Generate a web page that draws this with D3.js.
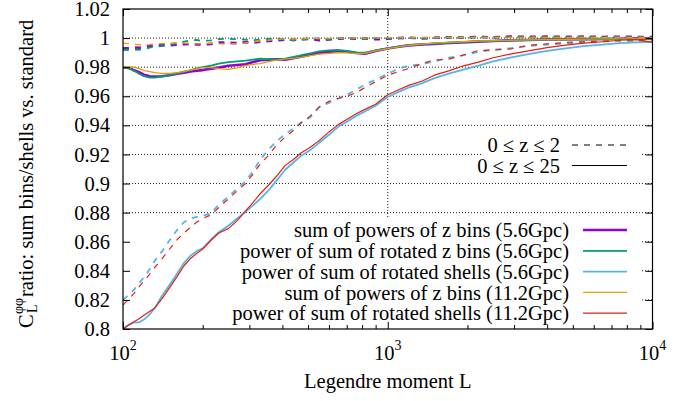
<!DOCTYPE html>
<html>
<head>
<meta charset="utf-8">
<script src="https://cdn.jsdelivr.net/npm/d3@7"></script>
<style>
body { margin: 0; background: #fff; }
svg text { font-family: "Liberation Serif", Tinos, "DejaVu Serif", serif; font-size: 20.5px; fill: #000; }
</style>
</head>
<body>
<svg></svg>
<script>
// multipole grid shared by all curves
var ell = [100, 105, 110, 115, 120, 126, 132, 140, 150, 160, 170, 180, 190, 200, 215, 230, 250, 270, 290, 310,
  330, 355, 380, 410, 440, 470, 510, 550, 600, 650, 700, 760, 820, 900, 1000, 1100, 1200, 1350, 1500, 1700,
  1900, 2200, 2500, 2900, 3400, 4000, 4700, 5500, 6500, 7500, 8700, 10000];

// 0 <= z <= 25 (solid)
var zbins56Wide = [0.980, 0.9795, 0.978, 0.9765, 0.9748, 0.9737, 0.9735, 0.9738, 0.9745, 0.9755, 0.9762, 0.977, 0.9775, 0.978, 0.979, 0.9797, 0.981, 0.9815, 0.982, 0.9835,
  0.9848, 0.9852, 0.9855, 0.9852, 0.9862, 0.9872, 0.9885, 0.9898, 0.9905, 0.991, 0.9908, 0.9897, 0.9893, 0.9912, 0.9928, 0.994, 0.995, 0.9956, 0.996, 0.9966,
  0.997, 0.9976, 0.998, 0.9984, 0.9987, 0.999, 0.9992, 0.9993, 0.9994, 0.9995, 0.9996, 0.9996];
var rotz56Wide = [0.980, 0.9793, 0.9775, 0.9755, 0.9738, 0.9728, 0.9728, 0.9735, 0.9745, 0.9758, 0.977, 0.978, 0.9792, 0.980, 0.981, 0.9825, 0.9835, 0.984, 0.9845, 0.9852,
  0.9858, 0.9855, 0.9852, 0.9858, 0.987, 0.9882, 0.9895, 0.9908, 0.9915, 0.9918, 0.9912, 0.9902, 0.990, 0.9915, 0.993, 0.9942, 0.9952, 0.9958, 0.9962, 0.9968,
  0.9972, 0.9978, 0.998, 0.9984, 0.9987, 0.9989, 0.999, 0.9991, 0.9992, 0.9993, 0.9994, 0.9995];
var shells56Wide = [0.800, 0.803, 0.8045, 0.8045, 0.8065, 0.810, 0.8145, 0.8225, 0.8305, 0.838, 0.8455, 0.8505, 0.8535, 0.8555, 0.8615, 0.8665, 0.871, 0.876, 0.8805, 0.885,
  0.8895, 0.8955, 0.902, 0.9095, 0.9145, 0.919, 0.923, 0.928, 0.9335, 0.939, 0.9425, 0.9465, 0.9495, 0.9535, 0.9595, 0.963, 0.966, 0.969, 0.9725, 0.9755,
  0.978, 0.981, 0.984, 0.9865, 0.989, 0.9912, 0.993, 0.9945, 0.9955, 0.9965, 0.997, 0.9975];
var zbins112Wide = [0.980, 0.9803, 0.980, 0.979, 0.9778, 0.977, 0.9762, 0.9758, 0.9758, 0.9762, 0.977, 0.978, 0.979, 0.9797, 0.9797, 0.979, 0.9785, 0.9795, 0.981, 0.982,
  0.9825, 0.9838, 0.9848, 0.9855, 0.986, 0.9868, 0.988, 0.989, 0.9895, 0.990, 0.9898, 0.9893, 0.9895, 0.9912, 0.9928, 0.994, 0.995, 0.9958, 0.9965, 0.997,
  0.9975, 0.998, 0.9982, 0.9985, 0.9988, 0.999, 0.9992, 0.9993, 0.9994, 0.9995, 0.9995, 0.9996];
var shells112Wide = [0.800, 0.8025, 0.805, 0.807, 0.8095, 0.812, 0.8145, 0.8205, 0.8285, 0.836, 0.8435, 0.8485, 0.852, 0.855, 0.861, 0.866, 0.869, 0.8745, 0.881, 0.887,
  0.893, 0.899, 0.905, 0.9125, 0.9165, 0.921, 0.925, 0.9295, 0.9355, 0.9405, 0.944, 0.948, 0.951, 0.9545, 0.961, 0.9645, 0.9675, 0.9705, 0.9745, 0.9775,
  0.9805, 0.9835, 0.9865, 0.989, 0.9912, 0.9935, 0.9952, 0.9965, 0.9975, 0.9985, 0.999, 0.997];

// 0 <= z <= 2 (dashed)
var zbins56Narrow = [0.993, 0.9932, 0.9935, 0.9933, 0.9938, 0.9945, 0.995, 0.9952, 0.995, 0.9955, 0.9958, 0.996, 0.9957, 0.9955, 0.996, 0.997, 0.9968, 0.9965, 0.9972, 0.9968,
  0.9975, 0.998, 0.9985, 0.999, 0.9988, 0.9992, 0.9995, 0.9985, 0.999, 0.9995, 0.9998, 0.9995, 0.9998, 0.9992, 0.9995, 1.0, 1.0003, 0.9998, 1.0002, 1.0005,
  1.0003, 1.0008, 1.0005, 1.001, 1.0008, 1.001, 1.0008, 1.001, 1.0008, 1.0009, 1.0008, 1.0008];
var rotz56Narrow = [0.9918, 0.992, 0.9922, 0.992, 0.9925, 0.9935, 0.9942, 0.9945, 0.9955, 0.9965, 0.9975, 0.9985, 0.9987, 0.998, 0.9985, 0.9993, 0.9995, 0.9992, 0.999, 0.9985,
  0.999, 0.9995, 0.9998, 0.999, 0.9985, 0.999, 0.9995, 0.9998, 0.9992, 0.9998, 1.0003, 0.9998, 0.9995, 1.0, 0.9998, 1.0, 1.0002, 0.9998, 1.0002, 1.0005,
  1.0002, 1.0005, 1.0004, 1.0006, 1.0005, 1.0006, 1.0005, 1.0006, 1.0005, 1.0006, 1.0005, 1.0005];
var shells56Narrow = [0.820, 0.8235, 0.827, 0.8315, 0.8355, 0.841, 0.847, 0.853, 0.861, 0.868, 0.8735, 0.876, 0.877, 0.8778, 0.8795, 0.8855, 0.891, 0.8965, 0.9015, 0.9085,
  0.9165, 0.9235, 0.929, 0.934, 0.938, 0.942, 0.9455, 0.9525, 0.9555, 0.9585, 0.961, 0.9645, 0.968, 0.9715, 0.9755, 0.979, 0.981, 0.982, 0.984, 0.9865,
  0.988, 0.9905, 0.992, 0.993, 0.9945, 0.9955, 0.9962, 0.997, 0.9975, 0.998, 0.998, 0.998];
var zbins112Narrow = [0.9965, 0.9962, 0.9958, 0.9955, 0.9952, 0.9955, 0.996, 0.9962, 0.9965, 0.9968, 0.9965, 0.9962, 0.996, 0.9962, 0.9965, 0.996, 0.996, 0.9962, 0.9968, 0.9975,
  0.998, 0.9985, 0.999, 0.9995, 0.9993, 0.9995, 0.9998, 0.9997, 0.9998, 1.0, 1.0, 1.0002, 1.0, 1.0002, 1.0003, 1.0002, 1.0003, 1.0004, 1.0003, 1.0004,
  1.0004, 1.0005, 1.0004, 1.0005, 1.0004, 1.0005, 1.0004, 1.0005, 1.0004, 1.0005, 1.0004, 1.0004];
var shells112Narrow = [0.8165, 0.8205, 0.8245, 0.829, 0.833, 0.8375, 0.8425, 0.848, 0.855, 0.8615, 0.866, 0.870, 0.8735, 0.876, 0.8785, 0.8835, 0.8895, 0.895, 0.900, 0.9065,
  0.9135, 0.9195, 0.9265, 0.932, 0.9365, 0.9415, 0.9465, 0.9525, 0.9565, 0.9585, 0.960, 0.9625, 0.966, 0.970, 0.9745, 0.977, 0.979, 0.9825, 0.985, 0.9855,
  0.988, 0.9915, 0.9918, 0.9925, 0.995, 0.996, 0.997, 0.9975, 0.998, 0.9985, 0.999, 0.999];

var seriesNames = ["sum of powers of z bins (5.6Gpc)", "power of sum of rotated z bins (5.6Gpc)",
  "power of sum of rotated shells (5.6Gpc)", "sum of powers of z bins (11.2Gpc)", "power of sum of rotated shells (11.2Gpc)"];
var wideSeries = [zbins56Wide, rotz56Wide, shells56Wide, zbins112Wide, shells112Wide];
var narrowSeries = [zbins56Narrow, rotz56Narrow, shells56Narrow, zbins112Narrow, shells112Narrow];
var colors = ["#9400d3", "#009e73", "#56b4e9", "#e69f00", "#e51e10"];
var widths = [2.6, 1.8, 1.8, 1.3, 1.2];

var yTicks = [0.8, 0.82, 0.84, 0.86, 0.88, 0.9, 0.92, 0.94, 0.96, 0.98, 1.0, 1.02];
var yTickLabels = ["0.8", "0.82", "0.84", "0.86", "0.88", "0.9", "0.92", "0.94", "0.96", "0.98", "1", "1.02"];
var xTicks = [100, 1000, 10000];
var xTickExp = ["2", "3", "4"];

var serif = "'Liberation Serif', Tinos, 'DejaVu Serif', serif";

var svgWidth = 691, svgHeight = 401;
var margin = {top: 9, right: 38.5, bottom: 72, left: 123};
var plotW = svgWidth - margin.left - margin.right;
var plotH = svgHeight - margin.top - margin.bottom;

var svg = d3.select("svg")
    .attr("width", svgWidth)
    .attr("height", svgHeight)
    .attr("font-family", serif)
    .attr("font-size", 20.5);

var g = svg.append("g")
    .attr("transform", "translate(" + margin.left + "," + margin.top + ")");

var x = d3.scaleLog().domain([100, 10000]).range([0, plotW]);
var y = d3.scaleLinear().domain([0.8, 1.02]).range([plotH, 0]);

// grid
g.selectAll(".hgrid")
    .data(yTicks.slice(1, -1))
    .enter()
    .append("line")
    .attr("x1", 0)
    .attr("x2", plotW)
    .attr("y1", function(d) { return y(d); })
    .attr("y2", function(d) { return y(d); })
    .attr("stroke", "#222")
    .attr("stroke-dasharray", "1,2");

g.selectAll(".vgrid")
    .data(xTicks.slice(1, -1))
    .enter()
    .append("line")
    .attr("x1", function(d) { return x(d); })
    .attr("x2", function(d) { return x(d); })
    .attr("y1", 0)
    .attr("y2", plotH)
    .attr("stroke", "#222")
    .attr("stroke-dasharray", "1,2");

// opaque key boxes
g.append("rect").attr("x", 0).attr("y", 210).attr("width", 517).attr("height", plotH - 210).attr("fill", "#fff");
g.append("rect").attr("x", 360).attr("y", 123).attr("width", 157).attr("height", 44).attr("fill", "#fff");

// curves
g.append("clipPath").attr("id", "clip")
    .append("rect").attr("width", plotW).attr("height", plotH);

var line = d3.line()
    .x(function(d, i) { return x(ell[i]); })
    .y(function(d) { return y(d); });

var curves = g.append("g").attr("clip-path", "url(#clip)");
wideSeries.forEach(function(s, i) {
    curves.append("path")
        .attr("d", line(narrowSeries[i]))
        .attr("fill", "none")
        .attr("stroke", colors[i])
        .attr("stroke-width", widths[i])
        .attr("stroke-dasharray", "6,6");
    curves.append("path")
        .attr("d", line(s))
        .attr("fill", "none")
        .attr("stroke", colors[i])
        .attr("stroke-width", widths[i])
        .attr("stroke-linejoin", "round");
});

// axes
var minor = x.ticks().filter(function(d) { return xTicks.indexOf(d) < 0; });

var yAxis = g.append("g")
    .call(d3.axisLeft(y).tickValues(yTicks).tickFormat(function(d, i) { return yTickLabels[i]; })
        .tickSizeInner(-7).tickSizeOuter(0).tickPadding(13));
yAxis.attr("font-family", serif).attr("font-size", 20.5);
g.append("g")
    .attr("transform", "translate(" + plotW + ",0)")
    .call(d3.axisRight(y).tickValues(yTicks).tickFormat("").tickSizeInner(-7).tickSizeOuter(0));
g.append("g")
    .attr("transform", "translate(0," + plotH + ")")
    .call(d3.axisBottom(x).tickValues(xTicks).tickFormat("").tickSizeInner(-7).tickSizeOuter(0));
g.append("g")
    .attr("transform", "translate(0," + plotH + ")")
    .call(d3.axisBottom(x).tickValues(minor).tickFormat("").tickSizeInner(-4).tickSizeOuter(0));
g.append("g")
    .call(d3.axisTop(x).tickValues(xTicks).tickFormat("").tickSizeInner(-7).tickSizeOuter(0));
g.append("g")
    .call(d3.axisTop(x).tickValues(minor).tickFormat("").tickSizeInner(-4).tickSizeOuter(0));
g.selectAll(".domain").remove();

g.append("rect")
    .attr("width", plotW)
    .attr("height", plotH)
    .attr("fill", "none")
    .attr("stroke", "#000")
    .attr("stroke-width", 1.2);

var xlab = g.selectAll(".xlab")
    .data(xTicks)
    .enter()
    .append("text")
    .attr("x", function(d) { return x(d); })
    .attr("y", plotH + 31)
    .attr("text-anchor", "middle");
xlab.append("tspan").text("10");
xlab.append("tspan")
    .attr("dy", -10)
    .style("font-size", "14px")
    .text(function(d, i) { return xTickExp[i]; });

svg.append("text")
    .attr("x", margin.left + plotW / 2)
    .attr("y", 388)
    .attr("text-anchor", "middle")
    .text("Legendre moment L");

// y label, rotated
var ylab = svg.append("g").attr("transform", "translate(33,328) rotate(-90)");
ylab.append("text").attr("x", 0).attr("y", 0).text("C");
ylab.append("text").attr("x", 14).attr("y", -10).style("font-size", "14px").text("\u03c6\u03c6");
ylab.append("text").attr("x", 15).attr("y", 4).style("font-size", "14px").text("L");
ylab.append("text").attr("x", 31).attr("y", 0).text("ratio: sum bins/shells vs. standard");

// key for redshift range
var zKeys = ["0 \u2264 z \u2264 2", "0 \u2264 z \u2264 25"];
var zKeyDash = ["6,6", null];
zKeys.forEach(function(t, i) {
    var yy = 145 + i * 20.5;
    svg.append("text")
        .attr("x", 560).attr("y", yy).attr("dy", "0.35em")
        .attr("text-anchor", "end")
        .text(t);
    svg.append("line")
        .attr("x1", 572).attr("x2", 627).attr("y1", yy).attr("y2", yy)
        .attr("stroke", "#000").attr("stroke-width", 1.2)
        .attr("stroke-dasharray", zKeyDash[i]);
});

// key for series
seriesNames.forEach(function(t, i) {
    var yy = 230 + i * 20.8;
    svg.append("text")
        .attr("x", 569).attr("y", yy).attr("dy", "0.35em")
        .attr("text-anchor", "end")
        .text(t);
    svg.append("line")
        .attr("x1", 583).attr("x2", 627).attr("y1", yy).attr("y2", yy)
        .attr("stroke", colors[i]).attr("stroke-width", widths[i]);
});
</script>
</body>
</html>
